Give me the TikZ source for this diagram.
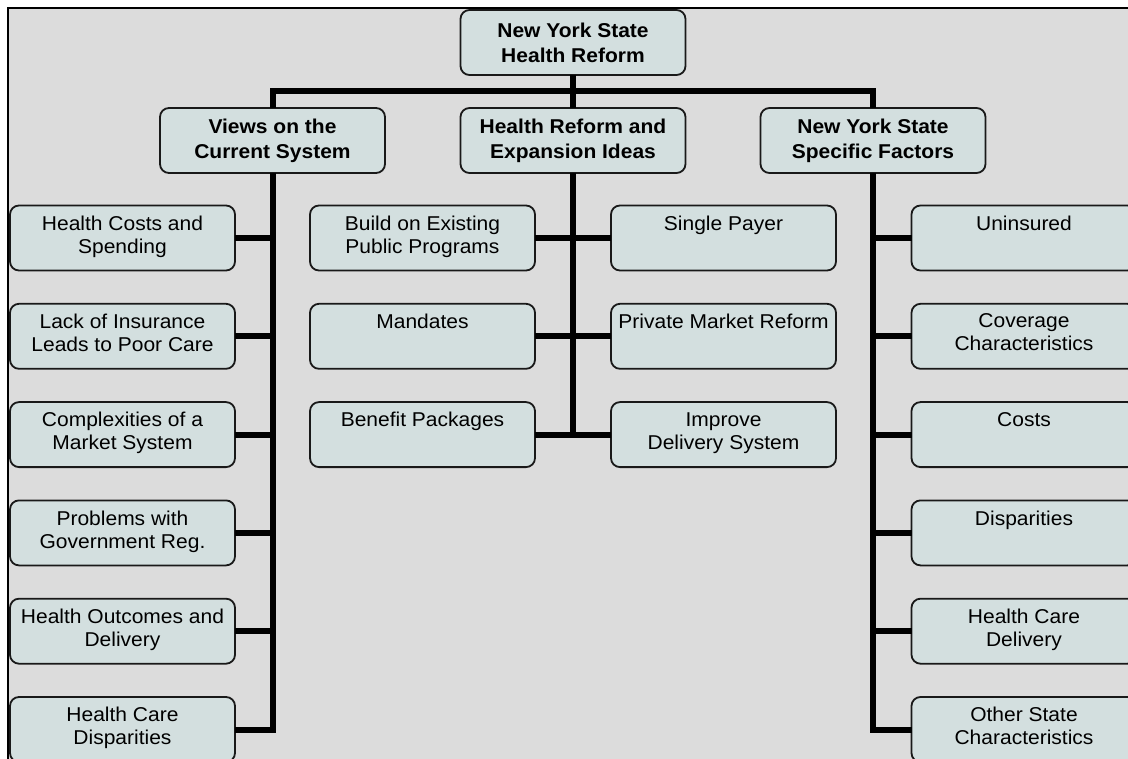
\documentclass[tikz,border=0pt]{standalone}
\usepackage{fontspec}
\setmainfont[FakeStretch=1.05]{Liberation Sans}
\usetikzlibrary{positioning}
\definecolor{bggrey}{RGB}{220,220,220}
\definecolor{boxfill}{RGB}{211,223,223}
\newcommand\leafbox[4]{%
  \node[boxshape] (#1) at (#2,#3) {};
  \node[boxtext,below=10pt of #1.north] (#1t) {#4};}

\begin{document}
\begin{tikzpicture}[x=1pt,y=-1pt,line join=miter
  ,boxshape/.style={draw=black!90,line width=1.8pt,rounded corners=9pt,fill=boxfill
    ,minimum width=225pt,minimum height=65pt,inner sep=0pt,outer sep=0pt}
  ,headbox/.style={boxshape,align=center,font=\fontsize{20}{25}\selectfont\bfseries}
  ,boxtext/.style={align=center,inner sep=0pt,font=\fontsize{20}{23}\selectfont}
  ,link/.style={line width=6pt}]
\useasboundingbox (0,0) rectangle (1128,759);
\draw[line width=2.5pt,fill=bggrey] (8,8) rectangle (1160,790);

\node[headbox] (T) at (573,42.5) {New York State\\Health Reform};
\node[headbox] (V) at (272.5,140.5) {Views on the\\Current System};
\node[headbox] (E) at (573,140.5) {Health Reform and\\Expansion Ideas};
\node[headbox] (N) at (873,140.5) {New York State\\Specific Factors};
\coordinate (bus) at (573,91);
\draw[link] (V.north) |- (bus) -| (N.north);
\draw[link] (T.south) -- (E.north);

\leafbox{L1}{122.5}{238}{Health Costs and\\Spending}
\leafbox{L2}{122.5}{336.3}{Lack of Insurance\\Leads to Poor Care}
\leafbox{L3}{122.5}{434.6}{Complexities of a\\Market System}
\leafbox{L4}{122.5}{532.9}{Problems with\\Government Reg.}
\leafbox{L5}{122.5}{631.2}{Health Outcomes and\\Delivery}
\leafbox{L6}{122.5}{729.5}{Health Care\\Disparities}

\leafbox{ML1}{422.5}{238}{Build on Existing\\Public Programs}
\leafbox{ML2}{422.5}{336.3}{Mandates}
\leafbox{ML3}{422.5}{434.6}{Benefit Packages}
\leafbox{MR1}{723.5}{238}{Single Payer}
\leafbox{MR2}{723.5}{336.3}{Private Market Reform}
\leafbox{MR3}{723.5}{434.6}{Improve\\Delivery System}

\leafbox{R1}{1024}{238}{Uninsured}
\leafbox{R2}{1024}{336.3}{Coverage\\Characteristics}
\leafbox{R3}{1024}{434.6}{Costs}
\leafbox{R4}{1024}{532.9}{Disparities}
\leafbox{R5}{1024}{631.2}{Health Care\\Delivery}
\leafbox{R6}{1024}{729.5}{Other State\\Characteristics}

\draw[link] (V.south) |- (L6.east);
\foreach \n in {1,...,5} \draw[link] (L\n.east) -- (L\n.east -| V.south);
\draw[link] (N.south) |- (R6.west);
\foreach \n in {1,...,5} \draw[link] (R\n.west) -- (R\n.west -| N.south);
\draw[link] (E.south) -- (E.south |- ML3.east);
\foreach \n in {1,2,3} \draw[link] (ML\n.east) -- (MR\n.west);

\end{tikzpicture}
\end{document}
